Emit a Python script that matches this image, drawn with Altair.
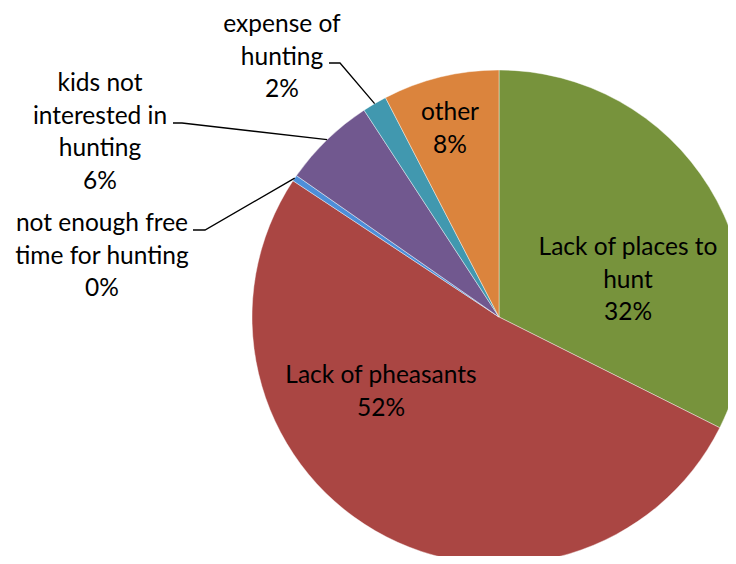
import math
import altair as alt
import pandas as pd

# ---------------- data ----------------
categories = [
    "Lack of places to hunt",
    "Lack of pheasants",
    "not enough free time for hunting",
    "kids not interested in hunting",
    "expense of hunting",
    "other",
]
shares = [32.4, 51.9, 0.4, 6.1, 1.6, 7.6]          # percent
label_text = [
    "Lack of places to\nhunt",
    "Lack of pheasants",
    "not enough free\ntime for hunting",
    "kids not\ninterested in\nhunting",
    "expense of\nhunting",
    "other",
]
colors = ["#77933C", "#AA4643", "#4D8ED8", "#71588F", "#4198AF", "#DB843D"]

# ---------------- layout (pixels inside the chart) ----------------
W, H = 720, 548
CX, CY, R = 491, 309, 247
# label block centre x and first baseline y
label_pos = {
    "Lack of places to hunt": (620, 247),
    "Lack of pheasants": (373, 375),
    "not enough free time for hunting": (94, 223),
    "kids not interested in hunting": (92, 83),
    "expense of hunting": (274, 24),
    "other": (442, 112),
}
# leader lines: (text-end x, elbow x, y)
leaders = {
    "not enough free time for hunting": (185, 197, 222),
    "kids not interested in hunting": (165, 174, 115),
    "expense of hunting": (321, 332, 55),
}

pct = [f"{round(s)}%" for s in shares]
df = pd.DataFrame({"cat": categories, "share": shares, "idx": list(range(len(categories)))})

txt_rows = []
for c, t, p in zip(categories, label_text, pct):
    x, y = label_pos[c]
    txt_rows.append({"cat": c, "x": x, "y": y, "text": t + "\n" + p})
df_txt = pd.DataFrame(txt_rows)

line_rows = []
cum = 0.0
total = sum(shares)
for c, s in zip(categories, shares):
    mid = (cum + s / 2) / total * 2 * math.pi
    cum += s
    if c in leaders:
        x0, x1, yl = leaders[c]
        ex = CX + R * math.sin(mid)
        ey = CY - R * math.cos(mid)
        line_rows += [
            {"cat": c, "pt": 0, "x": x0, "y": yl},
            {"cat": c, "pt": 1, "x": x1, "y": yl},
            {"cat": c, "pt": 2, "x": ex, "y": ey},
        ]
df_line = pd.DataFrame(line_rows)

xs = alt.Scale(domain=[0, W], nice=False, zero=False)
ys = alt.Scale(domain=[0, H], nice=False, zero=False, reverse=True)

pie = alt.Chart(df).mark_arc(radius=R, stroke="#ffffff", strokeWidth=0.6, strokeOpacity=0.7).encode(
    theta=alt.Theta("share:Q", stack=True),
    color=alt.Color("cat:N", scale=alt.Scale(domain=categories, range=colors), legend=None),
    order=alt.Order("idx:Q"),
    x=alt.value(CX),
    y=alt.value(CY),
)

lines = alt.Chart(df_line).mark_line(color="#000000", strokeWidth=1.3).encode(
    x=alt.X("x:Q", scale=xs, axis=None),
    y=alt.Y("y:Q", scale=ys, axis=None),
    detail="cat:N",
    order="pt:Q",
)

texts = alt.Chart(df_txt).mark_text(
    lineBreak="\n", font="Lato", fontSize=24.5, lineHeight=32.5,
    align="center", baseline="alphabetic", color="#000000",
).encode(
    x=alt.X("x:Q", scale=xs, axis=None),
    y=alt.Y("y:Q", scale=ys, axis=None),
    text="text:N",
)

chart = alt.layer(pie, lines, texts).properties(
    width=W, height=H, padding=0, autosize="none"
).configure_view(stroke=None)

chart.save("out.html", embed_options={"renderer": "svg", "actions": False})
